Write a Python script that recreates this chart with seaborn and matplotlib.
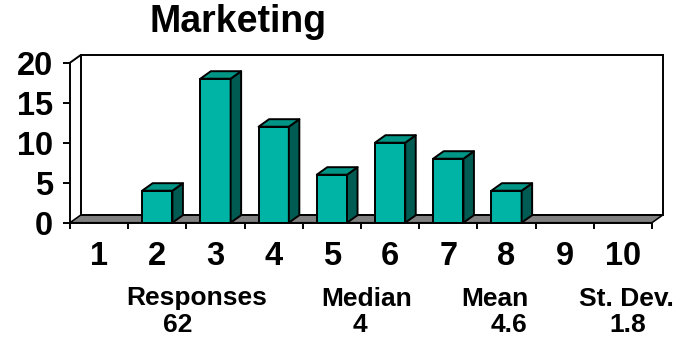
import matplotlib
matplotlib.use("Agg")
import matplotlib.pyplot as plt
from matplotlib.patches import Polygon, Rectangle
from matplotlib.lines import Line2D
import numpy as np
import pandas as pd
import seaborn as sns

# Survey scores (1-10) and how many responses each received
scores = ["1", "2", "3", "4", "5", "6", "7", "8", "9", "10"]
counts = [0, 4, 18, 12, 6, 10, 8, 4, 0, 0]
y_ticks = [0, 5, 10, 15, 20]
title = "Marketing"

# Summary block under the chart
stat_names = ["Responses", "Median", "Mean", "St. Dev."]
stat_values = ["62", "4", "4.6", "1.8"]

FRONT = "#00B4A5"
TOP = "#009585"
SIDE = "#005C52"
FLOOR = "#808080"
LW = 1.4

sns.set_theme(style="white")
plt.rcParams["font.family"] = ["Liberation Sans", "DejaVu Sans"]
plt.rcParams["font.weight"] = "bold"

W, H = 689, 346
fig = plt.figure(figsize=(W / 100, H / 100), dpi=100)
fig.patch.set_facecolor("white")
ax = fig.add_axes([70 / W, 123.3 / H, 582 / W, 160 / H])

df = pd.DataFrame({"score": scores, "count": counts})
sns.barplot(data=df, x="score", y="count", order=scores, color=FRONT,
            saturation=1, width=0.52, edgecolor="black", linewidth=LW,
            ax=ax, zorder=3)
bars = list(ax.patches)

ax.set_xlim(-0.5, len(scores) - 0.5)
ax.set_ylim(y_ticks[0], y_ticks[-1])
ax.set_xlabel("")
ax.set_ylabel("")
ax.set_facecolor("white")

# depth of the pseudo-3D box, converted from pixels to data units
DX_PX, DY_PX = 10.5, 7.5
pos = ax.get_position()
ax_w_px = pos.width * W
ax_h_px = pos.height * H
x0, x1 = ax.get_xlim()
y0, y1 = ax.get_ylim()
ddx = DX_PX * (x1 - x0) / ax_w_px
ddy = DY_PX * (y1 - y0) / ax_h_px

# back wall
ax.add_patch(Rectangle((x0 + ddx, y0 + ddy), x1 - x0, y1 - y0,
                       facecolor="white", edgecolor="black", linewidth=LW,
                       zorder=0.5, clip_on=False))
# floor
ax.add_patch(Polygon([(x0, y0), (x1, y0), (x1 + ddx, y0 + ddy), (x0 + ddx, y0 + ddy)],
                     closed=True, facecolor=FLOOR, edgecolor="black",
                     linewidth=LW * 0.8, zorder=1, clip_on=False))
# left wall top edge
ax.add_line(Line2D([x0, x0 + ddx], [y1, y1 + ddy], color="black",
                   linewidth=LW, zorder=1, clip_on=False))

# side and top faces of each bar
for b in bars:
    h = b.get_height()
    if h <= 0:
        b.set_visible(False)
        continue
    bx0 = b.get_x()
    bx1 = bx0 + b.get_width()
    side = [(bx1, 0), (bx1, h), (bx1 + ddx, h + ddy), (bx1 + ddx, ddy)]
    top = [(bx0, h), (bx1, h), (bx1 + ddx, h + ddy), (bx0 + ddx, h + ddy)]
    ax.add_patch(Polygon(side, closed=True, facecolor=SIDE, edgecolor="black",
                         linewidth=LW, zorder=3, clip_on=False, joinstyle="round"))
    ax.add_patch(Polygon(top, closed=True, facecolor=TOP, edgecolor="black",
                         linewidth=LW, zorder=3, clip_on=False, joinstyle="round"))

# spines
for s in ["top", "right"]:
    ax.spines[s].set_visible(False)
for s in ["left", "bottom"]:
    ax.spines[s].set_color("black")
    ax.spines[s].set_linewidth(LW)
    ax.spines[s].set_zorder(4)

# ticks
ax.set_yticks(y_ticks)
ax.set_xticks(np.arange(len(scores) + 1) - 0.5, minor=True)
ax.tick_params(axis="y", which="major", left=True, direction="out",
               length=5, width=LW, color="black", pad=7, labelsize=23.5,
               labelcolor="black")
ax.tick_params(axis="x", which="major", bottom=True, length=0, pad=13.5,
               labelsize=23.5, labelcolor="black")
ax.tick_params(axis="x", which="minor", bottom=True, direction="out",
               length=4.5, width=LW, color="black")

# title
fig.text(238.5 / W, 1 - 32 / H, title, ha="center", va="baseline",
         fontsize=27, fontweight="bold", color="black")

# statistics: names on one row, values on the row below
name_x = [196.5, 366.5, 495, 626]
value_x = [177.5, 360, 509, 628]
for name, nx in zip(stat_names, name_x):
    fig.text(nx / W, 1 - 305.5 / H, name, ha="center", va="baseline",
             fontsize=19, fontweight="bold", color="black")
for val, vx in zip(stat_values, value_x):
    fig.text(vx / W, 1 - 331.5 / H, val, ha="center", va="baseline",
             fontsize=19, fontweight="bold", color="black")

fig.savefig("out.png", dpi=100, facecolor="white")
